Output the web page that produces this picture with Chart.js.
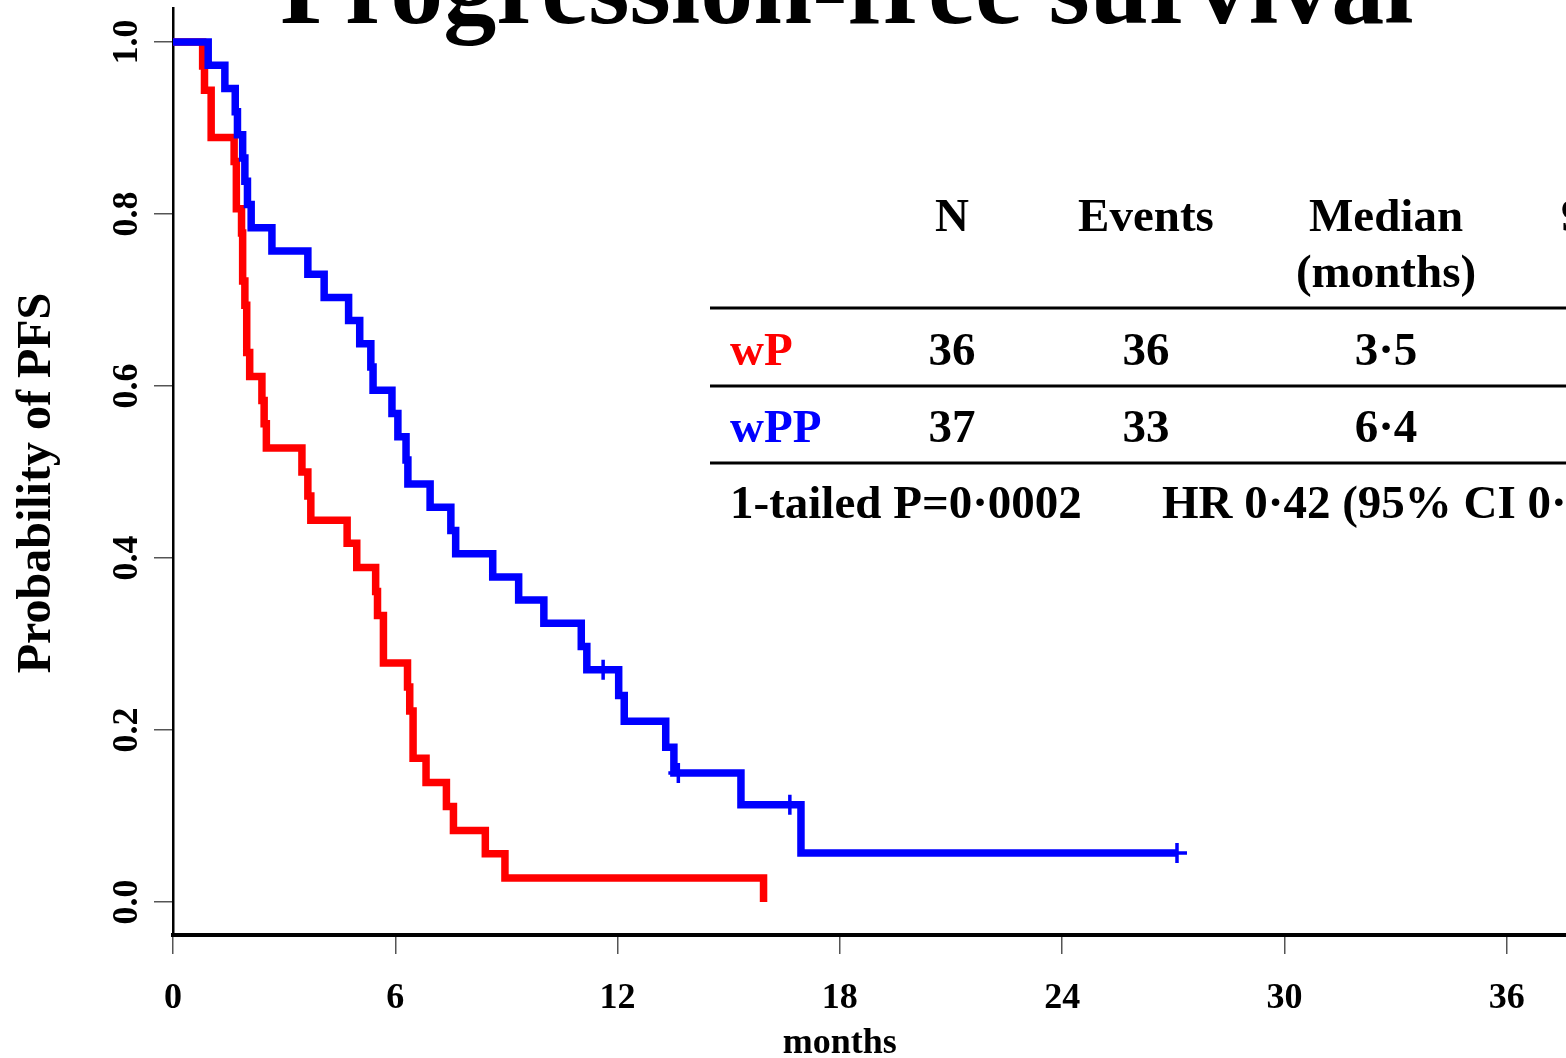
<!DOCTYPE html>
<html lang="en">
<head>
    <meta charset="UTF-8">
    <title>Progression-free survival</title>
    <script src="https://cdn.jsdelivr.net/npm/chart.js"></script>
    <style>
      body { margin: 0; padding: 0; background: #ffffff; }
      #wrap { width: 1566px; height: 1058px; }
    </style>
</head>
<body>
  <div id="wrap"><canvas id="pfsChart" width="1566" height="1058"></canvas></div>
  <script>
    // wP arm (red): step times (months) and survival after each drop
    const wpTimes = [0, 0.8, 0.85, 1.03, 1.65, 1.71, 1.85, 1.88, 1.94, 1.99, 2.07, 2.40, 2.46, 2.52, 3.48, 3.64, 3.72, 4.70, 4.96, 5.47, 5.52, 5.68, 6.33, 6.39, 6.48, 6.83, 7.38, 7.57, 8.43, 8.96, 15.94];
    const wpSurv  = [1, 0.972, 0.944, 0.889, 0.861, 0.806, 0.778, 0.722, 0.694, 0.639, 0.611, 0.583, 0.556, 0.528, 0.5, 0.472, 0.444, 0.417, 0.389, 0.361, 0.333, 0.278, 0.25, 0.222, 0.167, 0.139, 0.111, 0.083, 0.056, 0.028, 0];

    // wPP arm (blue)
    const wppTimes = [0, 0.95, 1.40, 1.68, 1.74, 1.88, 1.94, 2.01, 2.11, 2.67, 3.64, 4.08, 4.74, 5.04, 5.34, 5.40, 5.91, 6.07, 6.29, 6.34, 6.94, 7.50, 7.63, 8.63, 9.33, 10.01, 11.02, 11.17, 12.03, 12.18, 13.30, 13.52, 15.33, 16.95, 27.10];
    const wppSurv  = [1, 0.973, 0.946, 0.919, 0.892, 0.865, 0.838, 0.811, 0.784, 0.757, 0.730, 0.703, 0.676, 0.649, 0.622, 0.595, 0.568, 0.541, 0.514, 0.486, 0.459, 0.432, 0.405, 0.378, 0.351, 0.324, 0.297, 0.270, 0.240, 0.210, 0.180, 0.150, 0.113, 0.057, 0.057];

    // censored wPP patients
    const wppCensorTimes = [11.61, 13.64, 16.65, 27.10];
    const wppCensorSurv  = [0.270, 0.150, 0.113, 0.057];

    const xTicks = [0, 6, 12, 18, 24, 30, 36];
    const yTicks = [0, 0.2, 0.4, 0.6, 0.8, 1.0];

    const chartTitle = "Progression-free survival";
    const xTitle = "months";
    const yTitle = "Probability of PFS";

    // summary table
    const tableHead = ["N", "Events", "Median"];
    const tableHead2 = ["", "", "(months)"];
    const groups = ["wP", "wPP"];
    const groupN = ["36", "37"];
    const groupEvents = ["36", "33"];
    const groupMedian = ["3·5", "6·4"];
    const pText = "1-tailed P=0·0002";
    const hrText = "HR 0·42 (95% CI 0·";

    const RED = "#ff0000";
    const BLUE = "#0000ff";
    const SERIF = '"Liberation Serif", "Times New Roman", serif';

    const textPlugin = {
      id: "texts",
      afterDraw(chart) {
        const ctx = chart.ctx;
        const x = chart.scales.x;
        const y = chart.scales.y;
        ctx.save();
        ctx.fillStyle = "#000";
        ctx.textBaseline = "alphabetic";

        ctx.textAlign = "center";
        ctx.font = "bold 106px " + SERIF;
        ctx.fillText(chartTitle, 847, 23);

        ctx.font = "bold 36px " + SERIF;
        xTicks.forEach(v => ctx.fillText(String(v), x.getPixelForValue(v), 1008));
        ctx.fillText(xTitle, x.getPixelForValue(18), 1053);

        yTicks.forEach(v => {
          ctx.save();
          ctx.translate(137, y.getPixelForValue(v));
          ctx.rotate(-Math.PI / 2);
          ctx.fillText(v.toFixed(1), 0, 0);
          ctx.restore();
        });

        ctx.save();
        ctx.font = "bold 48px " + SERIF;
        ctx.translate(50, 483);
        ctx.rotate(-Math.PI / 2);
        ctx.fillText(yTitle, 0, 0);
        ctx.restore();

        // table
        const cols = [952, 1146, 1386];
        ctx.font = "bold 47px " + SERIF;
        tableHead.forEach((t, i) => ctx.fillText(t, cols[i], 231));
        tableHead2.forEach((t, i) => ctx.fillText(t, cols[i], 287));
        ctx.textAlign = "left";
        ctx.fillText("95% CI", 1561, 231);

        ctx.strokeStyle = "#000";
        ctx.lineWidth = 3;
        [308, 386, 463].forEach(ly => {
          ctx.beginPath();
          ctx.moveTo(710, ly);
          ctx.lineTo(1566, ly);
          ctx.stroke();
        });

        const rowY = [365, 442];
        const rowCol = [RED, BLUE];
        groups.forEach((g, i) => {
          ctx.textAlign = "left";
          ctx.fillStyle = rowCol[i];
          ctx.fillText(g, 730, rowY[i]);
          ctx.fillStyle = "#000";
          ctx.textAlign = "center";
          ctx.fillText(groupN[i], cols[0], rowY[i]);
          ctx.fillText(groupEvents[i], cols[1], rowY[i]);
          ctx.fillText(groupMedian[i], cols[2], rowY[i]);
        });

        ctx.textAlign = "left";
        ctx.fillText(pText, 730, 518);
        ctx.fillText(hrText, 1162, 518);
        ctx.restore();
      }
    };

    const ctx = document.getElementById("pfsChart").getContext("2d");
    new Chart(ctx, {
      type: "line",
      data: {
        datasets: [{
          label: "wPP censored",
          type: "scatter",
          data: wppCensorTimes.map((t, i) => ({ x: t, y: wppCensorSurv[i] })),
          pointStyle: "cross",
          pointRadius: 10,
          pointBorderWidth: 3.5,
          borderColor: BLUE,
          backgroundColor: BLUE,
          order: 0
        }, {
          label: "wPP",
          data: wppTimes.map((t, i) => ({ x: t, y: wppSurv[i] })),
          borderColor: BLUE,
          borderWidth: 7.5,
          stepped: "before",
          pointRadius: 0,
          borderJoinStyle: "miter",
          borderCapStyle: "butt",
          fill: false,
          order: 1
        }, {
          label: "wP",
          data: wpTimes.map((t, i) => ({ x: t, y: wpSurv[i] })),
          borderColor: RED,
          borderWidth: 7.5,
          stepped: "before",
          pointRadius: 0,
          borderJoinStyle: "miter",
          borderCapStyle: "butt",
          fill: false,
          order: 2
        }]
      },
      options: {
        responsive: false,
        animation: false,
        layout: { autoPadding: false, padding: { top: 8, left: 0, right: 0, bottom: 0 } },
        plugins: { legend: { display: false }, tooltip: { enabled: false } },
        scales: {
          x: {
            type: "linear",
            min: 0,
            max: 37.6,
            afterBuildTicks: s => { s.ticks = xTicks.map(v => ({ value: v })); },
            afterFit: s => { s.height = 123; },
            ticks: { display: false },
            grid: { drawOnChartArea: false, drawTicks: true, tickLength: 19, color: "#555", lineWidth: 1.5 },
            border: { color: "#000", width: 4 }
          },
          y: {
            type: "linear",
            min: -0.0384,
            max: 1.0395,
            afterBuildTicks: s => { s.ticks = yTicks.map(v => ({ value: v })); },
            afterFit: s => { s.width = 173; },
            ticks: { display: false },
            grid: { drawOnChartArea: false, drawTicks: true, tickLength: 19, color: "#555", lineWidth: 1.5 },
            border: { color: "#000", width: 2.5 }
          }
        }
      },
      plugins: [textPlugin]
    });
  </script>
</body>
</html>
